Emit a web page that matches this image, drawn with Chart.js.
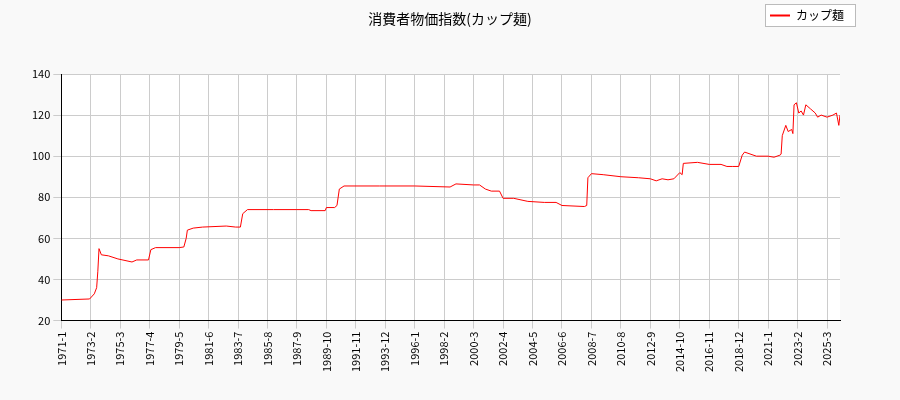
<!DOCTYPE html>
<html><head><meta charset="utf-8">
<script src="https://cdn.jsdelivr.net/npm/chart.js@4"></script>
<style>html,body{margin:0;background:#f9f9f9}#w{width:900px;height:400px}</style>
</head><body><div id="w"><canvas id="c"></canvas></div>
<script>
const seriesName = "カップ麺";
const chartTitle = "消費者物価指数(カップ麺)";
const monthIdx = [0,24,28,30,31,32,34,40,48,60,64,74,76,80,100,104,106,107,112,120,140,148,152,154,158,180,200,210,212,224,225,232,234,236,240,270,300,330,335,350,355,360,365,372,375,384,396,410,420,425,444,446,447,450,460,475,490,500,505,510,515,520,525,527,528,540,550,560,565,570,575,578,580,590,600,605,610,611,612,615,617,620,621,622,624,626,628,630,632,636,640,642,645,650,655,658,660,661];
const values =   [30,30.5,33,36,44,55,52,51.5,50,48.5,49.5,49.5,54.5,55.5,55.5,55.8,60,64,65,65.5,66,65.5,65.5,72,74,74,74,74,73.5,73.5,75,75,76,84,85.5,85.5,85.5,85,86.5,86,86,84,83,83,79.5,79.5,78,77.5,77.5,76,75.5,76,89.5,91.5,91,90,89.5,89,88,89,88.5,89,92,91,96.5,97,96,96,95,95,95,100.5,102,100,100,99.5,100.5,101,110,115,112,113,111,125,126,121,122,120,125,123,121,119,120,119,120,121,115,120];
const data = monthIdx.map((m,i)=>({x:m,y:values[i]}));
const F="'Noto Sans CJK JP','DejaVu Sans',sans-serif";
const deco={id:'deco',beforeDraw(c){const a=c.chartArea,x=c.ctx;x.save();x.fillStyle='#fff';x.fillRect(a.left,a.top,a.right-a.left,a.bottom-a.top);x.restore();},
afterDraw(c){const x=c.ctx;x.save();x.fillStyle='#000';x.font='14px '+F;x.textAlign='center';x.textBaseline='middle';x.fillText(chartTitle,450,19);
x.fillStyle='#fff';x.strokeStyle='#bbb';x.lineWidth=1;x.fillRect(765.5,4.5,90,22);x.strokeRect(765.5,4.5,90,22);
x.strokeStyle='#ff0000';x.lineWidth=2;x.beginPath();x.moveTo(770,15.5);x.lineTo(790,15.5);x.stroke();
x.fillStyle='#000';x.font='12px '+F;x.textAlign='left';x.fillText(seriesName,796,15.5);x.restore();}};
new Chart(document.getElementById('c'),{type:'line',
data:{datasets:[{label:seriesName,data,borderColor:'#ff0000',backgroundColor:'#ff0000',borderWidth:1,pointRadius:0,tension:0}]},
options:{responsive:true,maintainAspectRatio:false,animation:false,
layout:{padding:{left:29,right:60,top:74,bottom:25}},
plugins:{title:{display:false},legend:{display:false},tooltip:{enabled:false}},
scales:{x:{type:'linear',min:0,max:661,ticks:{stepSize:25,autoSkip:false,maxRotation:90,minRotation:90,font:{family:F,size:11},color:'#000',
callback:v=>v%25===0?(1971+Math.floor(v/12))+'-'+(v%12+1):''},afterBuildTicks:s=>{s.ticks=[];for(let v=0;v<=661;v+=25)s.ticks.push({value:v});},
grid:{color:'#ccc'},border:{color:'#000'}},
y:{min:20,max:140,ticks:{stepSize:20,font:{family:F,size:11},color:'#000'},grid:{color:'#ccc'},border:{color:'#000'}}}},
plugins:[deco]});
</script></body></html>
